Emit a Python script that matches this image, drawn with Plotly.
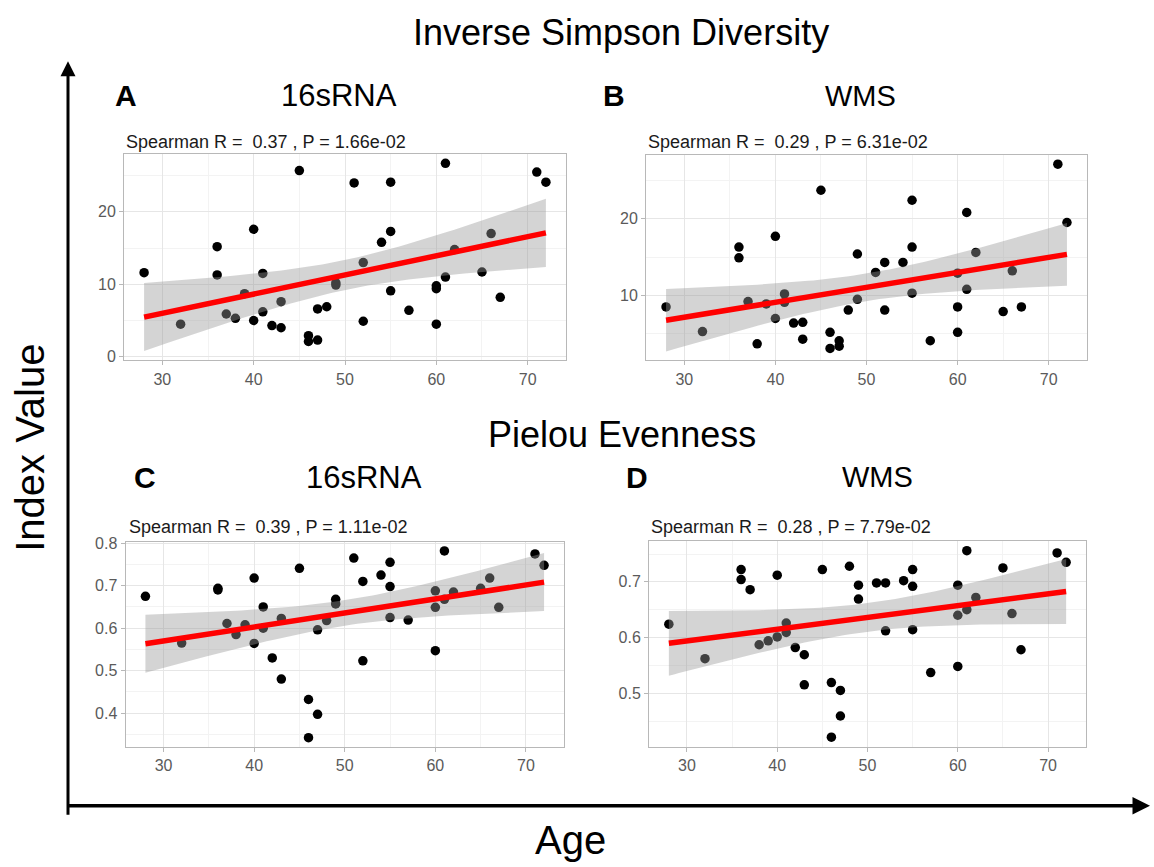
import numpy as np
import plotly.graph_objects as go

# ---------------- data ----------------
ages = [28, 32, 36, 36, 37, 38, 39, 40, 40, 41, 41, 42, 43, 43, 45, 46, 46, 47, 47, 48,
        49, 49, 51, 52, 52, 54, 55, 55, 55, 57, 60, 60, 60, 61, 61, 62, 65, 66, 67, 71, 72]

simpson_16s = [11.6, 4.5, 15.2, 11.3, 5.9, 5.3, 8.7, 17.6, 5.0, 11.5, 6.2, 4.3, 7.6, 4.0, 25.7,
               2.9, 2.1, 6.6, 2.3, 6.9, 10.2, 9.9, 24.0, 13.0, 4.9, 15.8, 24.1, 17.3, 9.1, 6.4,
               9.8, 9.4, 4.5, 26.7, 11.0, 14.8, 11.7, 17.0, 8.2, 25.5, 24.1]

simpson_wms = [8.5, 5.3, 16.3, 14.9, 9.2, 3.7, 8.9, 17.7, 7.0, 10.2, 9.1, 6.4, 6.5, 4.3, 23.7,
               5.2, 3.1, 4.1, 3.4, 8.1, 15.4, 9.5, 13.0, 14.3, 8.1, 14.3, 22.4, 16.3, 10.3, 4.1,
               12.9, 8.5, 5.2, 20.8, 10.8, 15.6, 7.9, 13.2, 8.5, 27.1, 19.5]

pielou_16s = [0.675, 0.565, 0.694, 0.690, 0.611, 0.585, 0.608, 0.718, 0.564, 0.650, 0.600, 0.530,
              0.623, 0.480, 0.741, 0.432, 0.342, 0.596, 0.397, 0.618, 0.668, 0.657, 0.765, 0.710,
              0.523, 0.725, 0.755, 0.698, 0.625, 0.619, 0.688, 0.649, 0.547, 0.782, 0.668, 0.685,
              0.694, 0.718, 0.649, 0.775, 0.748]

pielou_wms = [0.624, 0.562, 0.722, 0.704, 0.686, 0.587, 0.594, 0.712, 0.601, 0.626, 0.609, 0.582,
              0.569, 0.515, 0.722, 0.519, 0.421, 0.505, 0.459, 0.728, 0.694, 0.669, 0.698, 0.698,
              0.612, 0.702, 0.722, 0.692, 0.614, 0.537, 0.694, 0.640, 0.548, 0.756, 0.650, 0.672,
              0.725, 0.643, 0.578, 0.752, 0.735]

stat_labels = ["Spearman R =  0.37 , P = 1.66e-02",
               "Spearman R =  0.29 , P = 6.31e-02",
               "Spearman R =  0.39 , P = 1.11e-02",
               "Spearman R =  0.28 , P = 7.79e-02"]
panel_letters = ["A", "B", "C", "D"]
panel_titles = ["16sRNA", "WMS", "16sRNA", "WMS"]
row_titles = ["Inverse Simpson Diversity", "Pielou Evenness"]
x_label = "Age"
y_label = "Index Value"

# ---------------- layout helpers ----------------
W, H = 1154, 867


def px(x):
    return x / W


def py(y):
    return 1 - y / H


T_975 = 2.0227  # t quantile, df = 39

panels = [
    dict(vals=simpson_16s, xdom=(124, 566), ydom=(149, 358.3), yr=(-0.5, 28.0), t0=0, dt=10, mdt=5),
    dict(vals=simpson_wms, xdom=(646, 1087), ydom=(150, 358.3), yr=(1.55, 28.3), t0=0, dt=10, mdt=5),
    dict(vals=pielou_16s, xdom=(125.5, 564), ydom=(542.5, 750), yr=(0.321, 0.803), t0=0.4, dt=0.1, mdt=0.05),
    dict(vals=pielou_wms, xdom=(649, 1086), ydom=(541.7, 750), yr=(0.404, 0.773), t0=0.5, dt=0.1, mdt=0.05),
]

FONT = "Liberation Sans, Arial, sans-serif"
fig = go.Figure()
layout_axes = {}

for i, p in enumerate(panels):
    k = "" if i == 0 else str(i + 1)
    xa, ya = "x" + k, "y" + k
    x = np.array(ages, dtype=float)
    y = np.array(p["vals"], dtype=float)

    # points first (drawn beneath the ribbon, like ggplot)
    fig.add_trace(go.Scatter(x=x, y=y, mode="markers", xaxis=xa, yaxis=ya,
                             marker=dict(color="black", size=9.5, line=dict(width=0)),
                             showlegend=False, hoverinfo="x+y"))

    # linear fit with 95% confidence band
    n = len(x)
    b1, b0 = np.polyfit(x, y, 1)
    resid = y - (b0 + b1 * x)
    s = np.sqrt(np.sum(resid ** 2) / (n - 2))
    sxx = np.sum((x - x.mean()) ** 2)
    xg = np.linspace(x.min(), x.max(), 80)
    yg = b0 + b1 * xg
    se = s * np.sqrt(1.0 / n + (xg - x.mean()) ** 2 / sxx)
    lo, hi = yg - T_975 * se, yg + T_975 * se

    fig.add_trace(go.Scatter(x=np.concatenate([xg, xg[::-1]]), y=np.concatenate([hi, lo[::-1]]),
                             mode="lines", fill="toself", fillcolor="rgba(153,153,153,0.42)",
                             line=dict(width=0), xaxis=xa, yaxis=ya, showlegend=False,
                             hoverinfo="skip"))
    fig.add_trace(go.Scatter(x=xg, y=yg, mode="lines", line=dict(color="#FF0000", width=5.5),
                             xaxis=xa, yaxis=ya, showlegend=False, hoverinfo="skip"))

    common = dict(showline=True, mirror=True, linecolor="#B8B8B8", linewidth=1,
                  ticks="outside", ticklen=4, tickcolor="#B8B8B8", tickwidth=1,
                  tickfont=dict(family=FONT, size=16, color="#5A5A5A"),
                  showgrid=True, gridcolor="#E6E6E6", gridwidth=1, zeroline=False)
    layout_axes["xaxis" + k] = dict(
        domain=[px(p["xdom"][0]), px(p["xdom"][1])], anchor=ya, range=[25.8, 74.2],
        tickmode="linear", tick0=30, dtick=10,
        minor=dict(tick0=25, dtick=5, showgrid=True, gridcolor="#F3F3F3", gridwidth=1, ticks=""),
        **common)
    layout_axes["yaxis" + k] = dict(
        domain=[py(p["ydom"][1]), py(p["ydom"][0])], anchor=xa, range=list(p["yr"]),
        tickmode="linear", tick0=p["t0"], dtick=p["dt"],
        minor=dict(tick0=p["t0"] - p["mdt"], dtick=p["mdt"], showgrid=True,
                   gridcolor="#F3F3F3", gridwidth=1, ticks=""),
        **common)

ann = []


def text(t, x, y, size, xanchor="center", bold=False, family=FONT, color="black", angle=0):
    ann.append(dict(text=("<b>%s</b>" % t) if bold else t, x=px(x), y=py(y),
                    xref="paper", yref="paper", xanchor=xanchor, yanchor="middle",
                    showarrow=False, textangle=angle,
                    font=dict(family=family, size=size, color=color)))


text(row_titles[0], 621, 26, 36)
text(row_titles[1], 622, 434, 36)

letter_pos = [(126, 90), (614, 90), (145, 477), (637, 477)]
title_pos = [(339, 90), (860, 90), (364, 477), (877, 477)]
stat_pos = [(124, 137), (646, 137), (127, 527), (649, 527)]
for i in range(4):
    text(panel_letters[i], letter_pos[i][0], letter_pos[i][1], 30, bold=True)
    text(panel_titles[i], title_pos[i][0], title_pos[i][1], 31 if i % 2 == 0 else 29)
    text(stat_labels[i], stat_pos[i][0], stat_pos[i][1], 18, xanchor="left", color="#1A1A1A")

text(x_label, 570, 845, 40)
text(y_label, 30, 447, 40, angle=-90)

# axis arrows
ann.append(dict(text="", x=px(68), y=py(55), xref="paper", yref="paper",
                ax=0, ay=755, axref="pixel", ayref="pixel", showarrow=True,
                arrowhead=2, arrowsize=1, arrowwidth=3, arrowcolor="black"))
ann.append(dict(text="", x=px(1150), y=py(810), xref="paper", yref="paper",
                ax=-1083, ay=0, axref="pixel", ayref="pixel", showarrow=True,
                arrowhead=2, arrowsize=1, arrowwidth=3.5, arrowcolor="black"))

fig.update_layout(width=W, height=H, margin=dict(l=0, r=0, t=0, b=0),
                  paper_bgcolor="white", plot_bgcolor="white",
                  annotations=ann, showlegend=False, **layout_axes)

fig.write_html("out.html")
